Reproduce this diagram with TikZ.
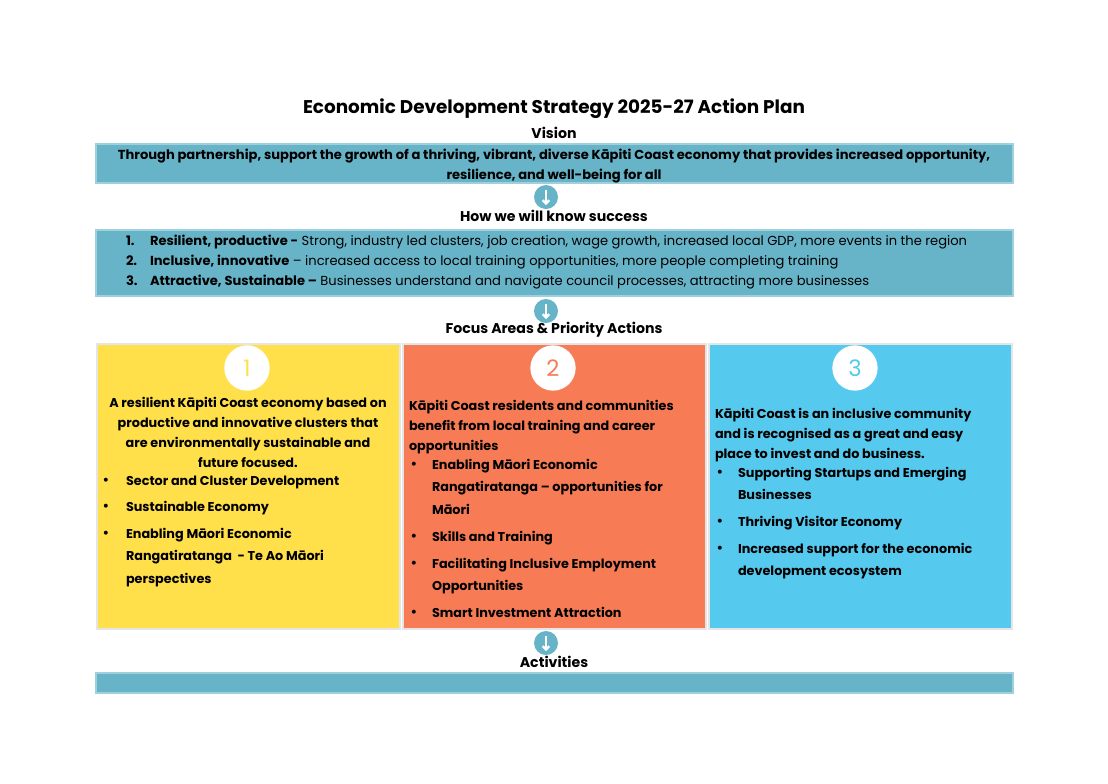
\documentclass[tikz,border=0pt]{standalone}
\usepackage{fontspec}
\setmainfont{Poppins}
\usetikzlibrary{arrows.meta}
\definecolor{teal}{HTML}{67B4C8}
\definecolor{tealb}{HTML}{9ED0DD}
\definecolor{yel}{HTML}{FFE04A}
\definecolor{org}{HTML}{F77C56}
\definecolor{blu}{HTML}{56C9EE}
\newcommand{\tl}[1]{\begin{tabular}[t]{@{}l@{}}#1\end{tabular}}
\newcommand{\tc}[1]{\begin{tabular}[t]{@{}c@{}}#1\end{tabular}}
\begin{document}
\begin{tikzpicture}[x=0.75pt,y=-0.75pt,
  every node/.style={inner sep=0pt,outer sep=0pt,font=\fontsize{9.8}{14.5}\selectfont},
  band/.style={fill=teal,draw=tealb,line width=1pt},
  col/.style={draw=white!80!gray,line width=0.8pt},
  hd/.style={font=\fontsize{10.6}{13}\selectfont\bfseries},
  arr/.style={circle,fill=teal,minimum size=18pt},
  num/.style={circle,fill=white,minimum size=34pt,font=\fontsize{17}{20}\selectfont},
  txt/.style={anchor=base west,font=\fontsize{9.6}{15}\selectfont\bfseries},
  item/.style={anchor=base west,font=\fontsize{9.6}{17}\selectfont\bfseries},
  dot/.style={anchor=base,font=\fontsize{12}{17}\selectfont},
  ar/.style={white,line width=1.6pt,-{Straight Barb[length=2.5pt,width=5pt]}}]
\useasboundingbox (0,0) rectangle (1108,783);
\node[font=\fontsize{13.8}{16}\selectfont\bfseries] (title) at (554,109) {Economic Development Strategy 2025-27 Action Plan};
\node[hd] (vl) at (554,133) {Vision};
\draw[band] (96,144) rectangle (1013,183);
\node[anchor=base,font=\fontsize{9.8}{15}\selectfont\bfseries] (vt) at (554,159) {\tc{Through partnership, support the growth of a thriving, vibrant, diverse Kāpiti Coast economy that provides increased opportunity,\\resilience, and well-being for all}};
\node[arr] (a1) at (546,197) {};
\draw[ar] (a1.north)++(0,5) -- ++(0,15);
\node[hd] (sl) at (554,216) {How we will know success};
\draw[band] (96,230) rectangle (1013,296);
\foreach \y/\n/\b/\t in {245/1./{Resilient, productive -}/{Strong, industry led clusters, job creation, wage growth, increased local GDP, more events in the region},
  265/2./{Inclusive, innovative}/{– increased access to local training opportunities, more people completing training},
  285/3./{Attractive, Sustainable –}/{Businesses understand and navigate council processes, attracting more businesses}}{
  \node[anchor=base west,font=\fontsize{9.8}{12}\selectfont\bfseries] at (126,\y) {\n};
  \node[anchor=base west] at (150,\y) {\textbf{\b} \t};
}
\node[arr] (a2) at (546,311) {};
\draw[ar] (a2.north)++(0,5) -- ++(0,15);
\node[hd] (fl) at (554,330) {Focus Areas \& Priority Actions};
\draw[col,fill=yel] (97,344) rectangle (400,629);
\draw[col,fill=org] (403,344) rectangle (706,629);
\draw[col,fill=blu] (709,344) rectangle (1012,629);
\node[num,text=yel] (n1) at (247,368) {1};
\node[num,text=org] (n2) at (553,368) {2};
\node[num,text=blu] (n3) at (855,368) {3};
% column 1
\node[anchor=base,font=\fontsize{9.6}{15}\selectfont\bfseries] (c1) at (248,407) {\tc{A resilient Kāpiti Coast economy based on\\productive and innovative clusters that\\are environmentally sustainable and\\future focused.}};
\foreach \y/\t in {485/{Sector and Cluster Development},511/{Sustainable Economy},538/{Enabling Māori Economic\\Rangatiratanga \ - Te Ao Māori\\perspectives}}{
  \node[dot] at (106,\y) {•}; \node[item] at (126,\y) {\tl{\t}};}
% column 2
\node[txt] (c2) at (409,410) {\tl{Kāpiti Coast residents and communities\\benefit from local training and career\\opportunities}};
\foreach \y/\t in {469/{Enabling Māori Economic\\Rangatiratanga – opportunities for\\Māori},541/{Skills and Training},568/{Facilitating Inclusive Employment\\Opportunities},617/{Smart Investment Attraction}}{
  \node[dot] at (414,\y) {•}; \node[item] at (432,\y) {\tl{\t}};}
% column 3
\node[txt] (c3) at (715,418) {\tl{Kāpiti Coast is an inclusive community\\and is recognised as a great and easy\\place to invest and do business.}};
\foreach \y/\t in {477/{Supporting Startups and Emerging\\Businesses},526/{Thriving Visitor Economy},553/{Increased support for the economic\\development ecosystem}}{
  \node[dot] at (720,\y) {•}; \node[item] at (738,\y) {\tl{\t}};}
\node[arr] (a3) at (546,643) {};
\draw[ar] (a3.north)++(0,5) -- ++(0,15);
\node[hd] (al) at (554,662) {Activities};
\draw[band] (96,673) rectangle (1013,693);
\end{tikzpicture}
\end{document}
